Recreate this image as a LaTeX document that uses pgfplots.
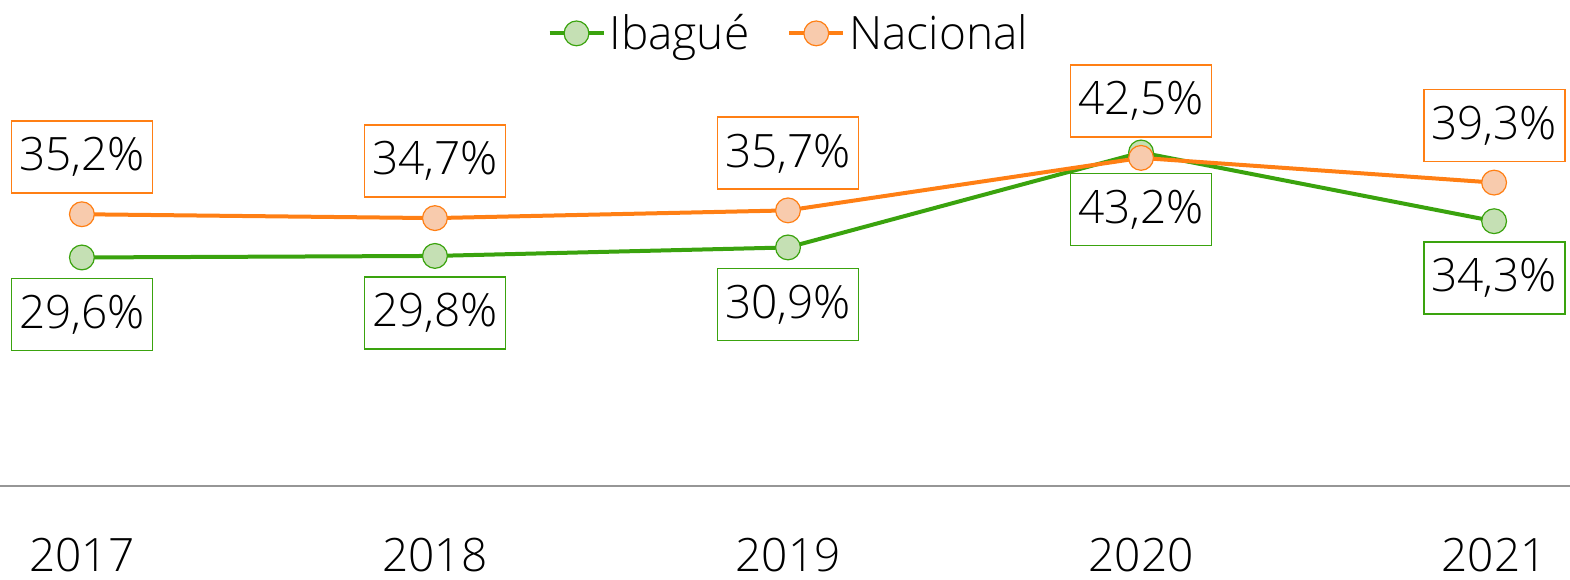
\documentclass[border=0pt]{standalone}
\usepackage{pgfplots}
\pgfplotsset{compat=1.18}
\usepackage{fontspec}
\setmainfont{Open Sans}[UprightFont=* Light]
\definecolor{gline}{RGB}{58,163,14}
\definecolor{gfill}{RGB}{197,224,180}
\definecolor{oline}{RGB}{255,127,20}
\definecolor{ofill}{RGB}{248,203,173}
\definecolor{axgray}{RGB}{150,150,150}
\newcommand{\bigf}{\fontsize{23}{27}\selectfont}
\begin{document}
\begin{tikzpicture}
\begin{axis}[
  scale only axis,
  width=785pt, height=212.3pt,
  xmin=2016.768, xmax=2021.215,
  ymin=0, ymax=55,
  axis x line=bottom,
  axis y line=none,
  x axis line style={-, draw=axgray, line width=0.9pt},
  xtick={2017,2018,2019,2020,2021},
  xticklabels={2017,2018,2019,2020,2021},
  major tick length=0pt,
  xticklabel style={font=\bigf, anchor=center, yshift=-34.5pt},
  /pgf/number format/assume math mode=true,
  clip=false,
  legend columns=2,
  legend style={draw=none, fill=none, font=\bigf, at={(rel axis cs:0.503,1.066)}, anchor=center,
    /tikz/every even column/.append style={column sep=17pt}, inner sep=0pt},
  legend cell align=left,
  legend image code/.code={\draw[mark repeat=2,mark phase=2] plot coordinates {(0pt,0pt) (13.5pt,0pt) (27pt,0pt)};},
  nodes near coords={\pgfmathprintnumber[fixed,fixed zerofill,precision=1,use comma,assume math mode=true]{\pgfplotspointmeta}\%},
]
\addplot[color=gline, line width=2pt, mark=*, mark size=6.2pt,
  mark options={fill=gfill, draw=gline, line width=0.6pt},
  every node near coord/.style={font=\bigf, text=black, draw=gline, line width=0.9pt, fill=white,
    minimum width=70.5pt, minimum height=36pt, inner sep=2pt, anchor=center, yshift=-28.5pt}]
  coordinates {(2017,29.6) (2018,29.8) (2019,30.9) (2020,43.2) (2021,34.3)};
\addlegendentry{Ibagué}
\addplot[color=oline, line width=2pt, mark=*, mark size=6.2pt,
  mark options={fill=ofill, draw=oline, line width=0.6pt},
  every node near coord/.style={font=\bigf, text=black, draw=oline, line width=0.9pt, fill=white,
    minimum width=70.5pt, minimum height=36pt, inner sep=2pt, anchor=center, yshift=28.5pt}]
  coordinates {(2017,35.2) (2018,34.7) (2019,35.7) (2020,42.5) (2021,39.3)};
\addlegendentry{Nacional}
\coordinate (bl) at (rel axis cs:0,-0.2214);
\coordinate (tr) at (rel axis cs:1,1.1446);
\end{axis}
\pgfresetboundingbox
\path[use as bounding box] (bl) rectangle (tr);
\end{tikzpicture}
\end{document}
